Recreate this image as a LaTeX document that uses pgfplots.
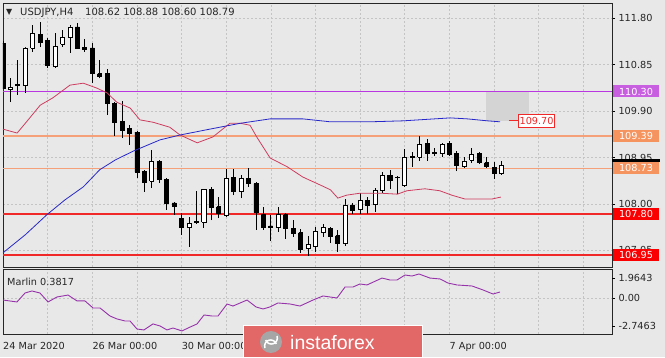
\documentclass[border=0pt]{standalone}
\usepackage{pgfplots}
\pgfplotsset{compat=1.18}
\usepackage{fontspec}
\setmainfont{DejaVu Sans}
\newfontfamily\logofont{Liberation Sans}
\definecolor{bgcol}{RGB}{232,232,232}
\definecolor{gridcol}{RGB}{196,196,196}
\definecolor{rectgray}{RGB}{212,212,212}
\definecolor{levelpurple}{RGB}{185,55,225}
\definecolor{boxpurp}{RGB}{200,95,225}
\definecolor{levelorange}{RGB}{245,160,120}
\definecolor{boxor}{RGB}{246,148,96}
\definecolor{levelred}{RGB}{240,40,40}
\definecolor{boxred}{RGB}{250,0,0}
\definecolor{mared}{RGB}{205,60,95}
\definecolor{mablue}{RGB}{40,40,200}
\definecolor{marlin}{RGB}{150,50,170}
\definecolor{logored}{RGB}{226,104,104}
\newcommand\lbl{\fontsize{9.7}{11}\selectfont}
% candle: index, open, high, low, close
\newcommand\candle[5]{%
  \pgfmathsetmacro\cxl{#1-0.27}%
  \pgfmathsetmacro\cxr{#1+0.27}%
  \ifdim #5pt<#2pt\relax\def\cfill{black}\else\def\cfill{white}\fi
  \edef\doit{%
    \noexpand\addplot[draw=black, line width=0.8pt] coordinates {(#1,#4) (#1,#3)};%
    \noexpand\addplot[draw=black, line width=0.8pt, fill=\cfill] coordinates {(\cxl,#2) (\cxr,#2) (\cxr,#5) (\cxl,#5) (\cxl,#2)};%
  }\doit}
\begin{document}
\begin{tikzpicture}
\useasboundingbox (0pt,0pt) rectangle (665pt,357pt);
\fill[bgcol] (0pt,0pt) rectangle (665pt,357pt);
\begin{axis}[at={(3pt,90pt)}, anchor=south west, scale only axis, width=609pt, height=264pt,
  xmin=0, xmax=81.85, ymin=106.71, ymax=112.11,
  axis line style={draw=black!85, line width=0.8pt},
  xtick={0,6,...,78}, xticklabels={}, xtick style={draw=none},
  ytick={107.05,108.00,108.95,109.90,110.85,111.80},
  yticklabels={107.05,108.00,108.95,109.90,110.85,111.80},
  ytick pos=right, yticklabel pos=right, tick align=outside, major tick length=3pt,
  ytick style={black, line width=0.6pt},
  grid=major, major grid style={draw=gridcol, dash pattern=on 2pt off 2pt, line width=0.6pt},
  tick label style={font=\lbl, text=black!85},
  clip=true]
\fill[rectgray] (axis cs:64.9,109.70) rectangle (axis cs:70.7,110.30);
\addplot[color=levelpurple, line width=1.9pt] coordinates {(0,110.30) (81.85,110.30)};
\addplot[color=levelorange, line width=1.1pt] coordinates {(0,109.39) (81.85,109.39)};
\addplot[color=levelorange, line width=1.1pt] coordinates {(0,108.73) (81.85,108.73)};
\addplot[color=levelred, line width=1.8pt] coordinates {(0,107.80) (81.85,107.80)};
\addplot[color=levelred, line width=1.8pt] coordinates {(0,106.95) (81.85,106.95)};
\coordinate (re) at (rel axis cs:1,0);
\coordinate (p1) at (axis cs:0,110.30);
\coordinate (p2) at (axis cs:0,109.39);
\coordinate (p3) at (axis cs:0,108.73);
\coordinate (p4) at (axis cs:0,107.80);
\coordinate (p5) at (axis cs:0,106.95);
\coordinate (pb) at (axis cs:0,108.89);
\coordinate (m970) at (axis cs:68.0,109.70);
\candle{0}{111.29}{111.33}{110.35}{110.37}
\candle{1}{110.35}{110.57}{110.08}{110.39}
\candle{2}{110.43}{110.94}{110.23}{110.44}
\candle{3}{110.43}{111.21}{110.27}{111.19}
\candle{4}{111.19}{111.66}{111.11}{111.49}
\candle{5}{111.47}{111.72}{111.21}{111.31}
\candle{6}{111.35}{111.39}{110.78}{110.84}
\candle{7}{110.82}{111.49}{110.78}{111.23}
\candle{8}{111.27}{111.56}{111.21}{111.41}
\candle{9}{111.41}{111.66}{111.09}{111.62}
\candle{10}{111.62}{111.70}{111.17}{111.19}
\candle{11}{111.21}{111.37}{111.11}{111.17}
\candle{12}{111.19}{111.29}{110.47}{110.68}
\candle{13}{110.66}{110.94}{110.57}{110.60}
\candle{14}{110.66}{110.76}{109.82}{110.06}
\candle{15}{110.06}{110.08}{109.39}{109.66}
\candle{16}{109.68}{110.10}{109.35}{109.51}
\candle{17}{109.55}{109.61}{109.21}{109.45}
\candle{18}{109.47}{109.49}{108.53}{108.65}
\candle{19}{108.67}{108.70}{108.25}{108.45}
\candle{20}{108.47}{109.10}{108.33}{108.86}
\candle{21}{108.86}{108.90}{108.43}{108.51}
\candle{22}{108.51}{108.53}{107.88}{108.02}
\candle{23}{108.02}{108.04}{107.78}{107.94}
\candle{24}{107.71}{107.82}{107.37}{107.53}
\candle{25}{107.53}{107.74}{107.12}{107.61}
\candle{26}{107.63}{108.27}{107.59}{107.64}
\candle{27}{107.63}{108.31}{107.51}{108.29}
\candle{28}{108.29}{108.35}{107.67}{107.92}
\candle{29}{107.94}{108.14}{107.71}{107.80}
\candle{30}{107.76}{108.72}{107.74}{108.53}
\candle{31}{108.55}{108.72}{108.18}{108.25}
\candle{32}{108.25}{108.59}{108.12}{108.53}
\candle{33}{108.53}{108.74}{108.35}{108.41}
\candle{34}{108.41}{108.45}{107.47}{107.82}
\candle{35}{107.78}{107.94}{107.47}{107.51}
\candle{36}{107.55}{107.78}{107.24}{107.51}
\candle{37}{107.51}{107.94}{107.43}{107.78}
\candle{38}{107.78}{107.82}{107.29}{107.49}
\candle{39}{107.49}{107.67}{107.33}{107.39}
\candle{40}{107.41}{107.49}{107.00}{107.08}
\candle{41}{107.10}{107.35}{106.94}{107.18}
\candle{42}{107.14}{107.53}{107.02}{107.43}
\candle{43}{107.41}{107.59}{107.33}{107.51}
\candle{44}{107.49}{107.53}{107.20}{107.33}
\candle{45}{107.35}{107.47}{107.02}{107.20}
\candle{46}{107.20}{108.10}{107.14}{107.98}
\candle{47}{107.98}{108.02}{107.80}{107.86}
\candle{48}{107.88}{108.23}{107.80}{108.08}
\candle{49}{108.08}{108.14}{107.80}{107.98}
\candle{50}{108.00}{108.33}{107.84}{108.27}
\candle{51}{108.27}{108.65}{108.23}{108.59}
\candle{52}{108.59}{108.70}{108.31}{108.49}
\candle{53}{108.54}{108.57}{108.20}{108.55}
\candle{54}{108.37}{109.12}{108.35}{108.96}
\candle{55}{108.96}{109.06}{108.76}{108.97}
\candle{56}{108.96}{109.39}{108.88}{109.21}
\candle{57}{109.23}{109.33}{108.88}{109.04}
\candle{58}{109.04}{109.14}{108.98}{109.05}
\candle{59}{109.04}{109.25}{108.96}{109.21}
\candle{60}{109.23}{109.29}{108.98}{109.02}
\candle{61}{109.04}{109.08}{108.67}{108.78}
\candle{62}{108.76}{108.96}{108.74}{108.88}
\candle{63}{108.90}{109.14}{108.84}{109.02}
\candle{64}{109.04}{109.06}{108.82}{108.84}
\candle{65}{108.84}{108.96}{108.74}{108.76}
\candle{66}{108.74}{108.86}{108.51}{108.63}
\candle{67}{108.62}{108.88}{108.60}{108.79}
\addplot[color=mared, line width=0.8pt] coordinates {(0,109.53) (1.9,109.45) (3.0,109.65) (5.0,110.02) (6.7,110.17) (9.0,110.43) (10.8,110.47) (12.6,110.37) (14.0,110.27) (15.3,110.08) (17.1,109.96) (18.4,109.72) (20.2,109.67) (22.4,109.57) (23.8,109.41) (26.1,109.25) (28.2,109.37) (30.5,109.65) (31.9,109.65) (33.2,109.61) (34.1,109.37) (35.9,108.94) (38.2,108.76) (40.3,108.55) (42.6,108.39) (44.0,108.29) (45.0,108.12) (46.2,108.18) (48.0,108.22) (50.7,108.22) (53.0,108.20) (54.3,108.27) (56.7,108.31) (58.7,108.27) (60.3,108.18) (62.1,108.10) (63.4,108.10) (65.7,108.10) (66.9,108.14)};
\addplot[color=mablue, line width=0.8pt] coordinates {(0,107.00) (3.0,107.37) (5.9,107.78) (8.3,108.08) (10.8,108.35) (13.0,108.70) (15.1,108.90) (17.5,109.08) (21.1,109.31) (23.8,109.41) (27.8,109.53) (31.9,109.65) (35.9,109.74) (40.3,109.74) (44.0,109.68) (49.3,109.68) (53.8,109.70) (60.1,109.76) (62.4,109.74) (65.1,109.70) (66.8,109.68)};
\end{axis}
\begin{axis}[at={(3pt,23pt)}, anchor=south west, scale only axis, width=609pt, height=65pt,
  xmin=0, xmax=81.85, ymin=-3.54, ymax=2.85,
  axis line style={draw=black!85, line width=0.8pt},
  xtick={0,6,...,78}, xticklabels={}, xtick style={draw=none},
  extra x ticks={0,12,24,60},
  extra x tick labels={24 Mar 2020,26 Mar 00:00,30 Mar 00:00,7 Apr 00:00},
  extra x tick style={grid=none, xticklabel style={anchor=north west, xshift=-3.3pt, yshift=-2pt}},
  ytick={0}, yticklabels={0.00},
  extra y ticks={1.9643,-2.7463}, extra y tick labels={1.9643,-2.7463},
  extra y tick style={grid=none},
  ytick pos=right, yticklabel pos=right, tick align=outside, major tick length=3pt,
  ytick style={black, line width=0.6pt},
  xmajorgrids, ymajorgrids,
  major grid style={draw=gridcol, dash pattern=on 2pt off 2pt, line width=0.6pt},
  tick label style={font=\lbl, text=black!85},
  clip=true]
\addplot[color=marlin, line width=0.9pt] coordinates {(0,-0.20) (1.88,-0.39) (2.96,0.49) (3.90,0.69) (4.97,0.49) (6.05,-0.39) (7.26,0.10) (8.74,0.29) (9.95,-0.29) (11.02,-0.29) (12.10,-0.98) (13.04,-0.98) (14.38,-1.77) (15.32,-2.06) (16.40,-2.26) (17.07,-2.26) (18.01,-3.05) (18.95,-3.14) (20.16,-2.55) (21.10,-2.75) (22.04,-3.14) (22.85,-2.95) (24.06,-3.24) (24.87,-2.95) (26.08,-2.55) (27.02,-1.67) (28.09,-1.77) (28.90,-1.77) (30.11,-0.59) (30.91,-0.79) (32.80,-0.20) (34.01,-0.88) (34.95,-1.08) (35.89,-0.88) (36.96,-0.49) (38.58,-0.59) (39.92,-0.79) (41.67,-0.20) (43.01,0.20) (44.89,0.00) (45.97,1.08) (47.04,1.08) (47.98,1.38) (48.92,1.28) (50.94,1.96) (52.02,1.77) (52.96,1.77) (54.03,2.26) (54.97,2.16) (55.91,2.36) (57.39,1.96) (58.74,1.87) (59.81,1.47) (61.02,1.28) (63.04,1.18) (64.52,0.79) (65.86,0.39) (66.80,0.59)};
\end{axis}
% header and pane label
\node[anchor=base west, inner sep=0pt, font=\fontsize{8}{9}\selectfont, text=black!85] at (6pt,342pt) {▼};
\node[anchor=base west, inner sep=0pt, font=\fontsize{10}{12}\selectfont, text=black!85] at (20pt,341pt) {USDJPY,H4};
\node[anchor=base west, inner sep=0pt, font=\fontsize{10}{12}\selectfont, text=black!85] at (85pt,341pt) {108.62 108.88 108.60 108.79};
\node[anchor=base west, inner sep=0pt, font=\lbl, text=black!85] at (7pt,72pt) {Marlin 0.3817};
% right-side level labels
\tikzset{lvlbox/.style={text=white, font=\lbl, minimum width=46pt, minimum height=12pt, inner sep=0pt, xshift=24pt}}
\node[lvlbox, fill=boxpurp] at (p1 -| re) {110.30};
\node[lvlbox, fill=boxor] at (p2 -| re) {109.39};
\draw[black, line width=3pt] (pb -| re) -- ++(48pt,0pt);
\node[lvlbox, fill=boxor] at (p3 -| re) {108.73};
\node[lvlbox, fill=boxred] at (p4 -| re) {107.80};
\node[lvlbox, fill=boxred] at (p5 -| re) {106.95};
\draw[levelred, line width=0.8pt] (m970) -- ++(9pt,0pt) node[anchor=west, draw=levelred, fill=white, text=levelred, inner sep=1.3pt, minimum height=13pt, font=\lbl] {109.70};
% logo
\fill[logored] (243pt,0pt) rectangle (423pt,32pt);
\draw[white, line width=1pt] (243.5pt,0pt) -- (243.5pt,31.5pt) -- (422.5pt,31.5pt) -- (422.5pt,0pt);
\fill[black!35] (271pt,15pt) circle (11pt);
\draw[white, line width=1.5pt] (265pt,9pt) arc (200:20:6pt);
\draw[white, line width=1.5pt] (277pt,21pt) arc (20:-160:6pt);
\node[anchor=base west, inner sep=0pt, text=white, font=\logofont\fontsize{19.5}{21}\selectfont] at (290pt,8pt) {instaforex};
\end{tikzpicture}
\end{document}
